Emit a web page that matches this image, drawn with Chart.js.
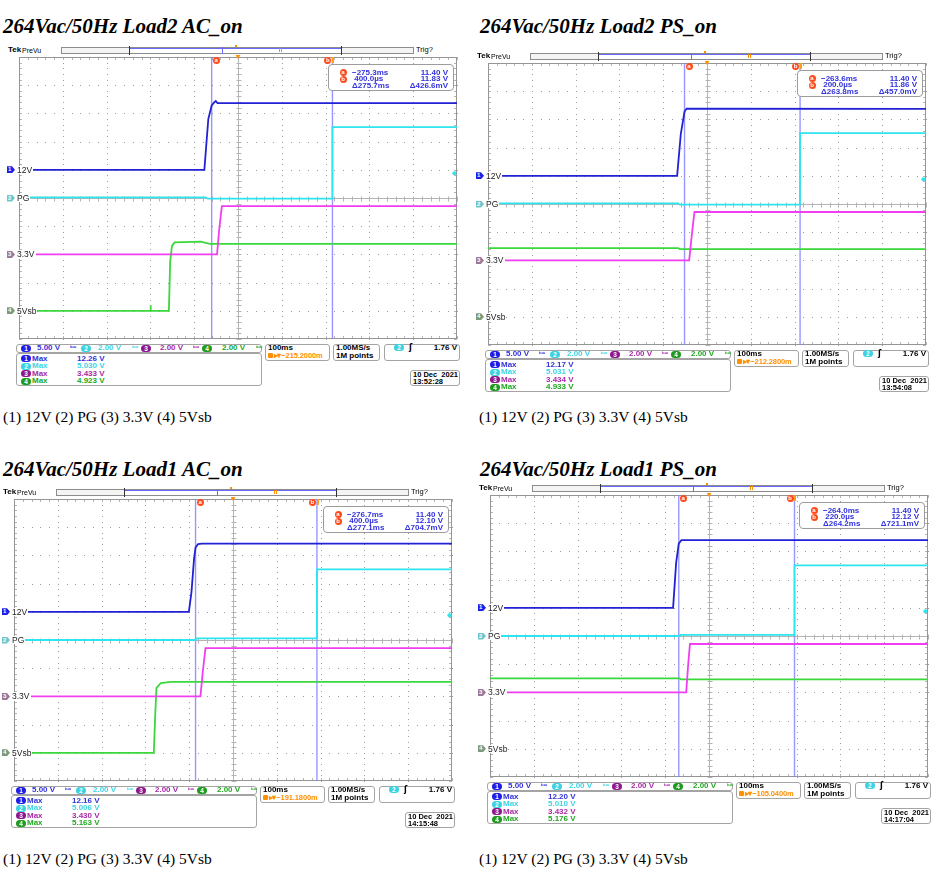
<!DOCTYPE html>
<html lang="en">
<head>
<meta charset="utf-8">
<title>264Vac/50Hz power-on sequence</title>
<script src="https://cdn.jsdelivr.net/npm/chart.js@4.4.1/dist/chart.umd.min.js"></script>
<style>
  html, body { margin: 0; padding: 0; background: #fff; }
  #page { position: relative; width: 939px; height: 870px; overflow: hidden;
          font-family: "Liberation Sans", Arial, sans-serif; font-weight: bold; color: #000; }
  #page div, #page canvas { position: absolute; white-space: pre; }
</style>
</head>
<body>
<div id="page"></div>
<script>
(function () {
    'use strict';

    /* ---------- values ---------- */
    const TITLES = ['264Vac/50Hz Load2 AC_on', '264Vac/50Hz Load2 PS_on', '264Vac/50Hz Load1 AC_on', '264Vac/50Hz Load1 PS_on'];
    const CAPTION = '(1) 12V (2) PG (3) 3.3V (4) 5Vsb';
    const CH_LABELS = ['12V', 'PG', '3.3V', '5Vsb'];
    const CH_SCALE_TEXT = ['5.00 V', '2.00 V', '2.00 V', '2.00 V'];
    const VOLTS_PER_DIV = [5, 2, 2, 2];
    const GROUND_DIV = [1, 0, -2, -4];
    const MS_PER_DIV = 100;
    const SCREEN_CENTER_MS = [-215.2, -212.3, -191.2, -195.0];
    const H_POS_TEXT = ['−215.2000m', '−212.2800m', '−191.1800m', '−105.0400m'];
    const CURSOR_A_MS = [-275.3, -263.6, -276.7, -264.0];
    const CURSOR_B_MS = [0.4, 0.2, 0.4, 0.22];
    const READ_A = [['−275.3ms', '11.40 V'], ['−263.6ms', '11.40 V'], ['−276.7ms', '11.40 V'], ['−264.0ms', '11.40 V']];
    const READ_B = [[' 400.0µs', '11.83 V'], [' 200.0µs', '11.86 V'], [' 400.0µs', '12.10 V'], [' 220.0µs', '12.12 V']];
    const READ_D = [['Δ275.7ms', 'Δ426.6mV'], ['Δ263.8ms', 'Δ457.0mV'], ['Δ277.1ms', 'Δ704.7mV'], ['Δ264.2ms', 'Δ721.1mV']];
    const MAX_READ = [
        ['12.26 V', '5.030 V', '3.433 V', '4.923 V'],
        ['12.17 V', '5.031 V', '3.434 V', '4.933 V'],
        ['12.16 V', '5.006 V', '3.430 V', '5.163 V'],
        ['12.20 V', '5.010 V', '3.432 V', '5.176 V']
    ];
    const STAMPS = [['10 Dec  2021', '13:52:28'], ['10 Dec  2021', '13:54:08'], ['10 Dec  2021', '14:15:48'], ['10 Dec  2021', '14:17:04']];
    const TRIG_LEVEL_V = 1.76;

    // waveforms: [time ms (trigger = 0), volts]
    const L2AC_12V = [[-715.2, 0], [-292, 0], [-283, 9.0], [-275.3, 11.4], [-270, 11.9], [-266, 12.2], [-262, 11.83], [284.8, 11.83]];
    const L2AC_PG = [[-715.2, 0.05], [-290, 0.05], [-284, -0.05], [0, -0.05], [0.4, 5.03], [284.8, 5.03]];
    const L2AC_3V3 = [[-715.2, 0], [-263, 0], [-258, 1.8], [-252, 3.43], [284.8, 3.43]];
    const L2AC_5VSB = [[-715.2, 0], [-416, 0], [-415, 0.4], [-414, 0], [-373, 0], [-370, 3.5], [-366, 4.6], [-360, 4.85], [-300, 4.9], [-280, 4.75], [284.8, 4.75]];

    const L2PS_12V = [[-712.3, 0], [-280.5, 0], [-272, 7.5], [-263.6, 11.4], [-259, 11.9], [287.7, 11.86]];
    const L2PS_PG = [[-712.3, 0.05], [-278, 0.05], [-275, -0.05], [0, -0.05], [0.2, 5.03], [287.7, 5.03]];
    const L2PS_3V3 = [[-712.3, 0], [-253, 0], [-247, 1.8], [-241, 3.434], [287.7, 3.434]];
    const L2PS_5VSB = [[-712.3, 4.87], [-278, 4.87], [-274, 4.80], [287.7, 4.80]];

    const L1AC_12V = [[-691.2, 0], [-292, 0], [-286, 3.5], [-280, 9.5], [-276.7, 11.4], [-271, 12.0], [-262, 12.1], [308.8, 12.1]];
    const L1AC_PG = [[-691.2, 0], [-277, 0], [-275, 0.12], [0.2, 0.12], [0.4, 5.006], [308.8, 5.006]];
    const L1AC_3V3 = [[-691.2, 0], [-265.5, 0], [-260, 1.8], [-254, 3.43], [308.8, 3.43]];
    const L1AC_5VSB = [[-691.2, 0], [-372, 0], [-369, 2.5], [-366, 4.6], [-356, 4.95], [-333, 5.03], [308.8, 5.03]];

    const L1PS_12V = [[-695, 0], [-277, 0], [-270, 8.0], [-264, 11.4], [-258, 12.0], [305, 12.0]];
    const L1PS_PG = [[-695, 0], [-262, 0], [-260, 0.08], [0, 0.08], [0.22, 5.01], [305, 5.01]];
    const L1PS_3V3 = [[-695, 0], [-247, 0], [-243, 1.8], [-238.5, 3.432], [305, 3.432]];
    const L1PS_5VSB = [[-695, 5.0], [-262, 5.0], [-259, 4.92], [305, 4.92]];

    const WAVES = [
        [L2AC_12V, L2AC_PG, L2AC_3V3, L2AC_5VSB],
        [L2PS_12V, L2PS_PG, L2PS_3V3, L2PS_5VSB],
        [L1AC_12V, L1AC_PG, L1AC_3V3, L1AC_5VSB],
        [L1PS_12V, L1PS_PG, L1PS_3V3, L1PS_5VSB]
    ];

    /* ---------- layout and colours ---------- */
    const GW = 444, GH = 288;   // graticule, 10 x 10 divisions
    const LAYOUT = [
        { gx: 16, gy: 54, tx: 3, ty: 16, cx: 3, cy: 409 },
        { gx: 485, gy: 60, tx: 480, ty: 16, cx: 479, cy: 409 },
        { gx: 11, gy: 496, tx: 3, ty: 459, cx: 3, cy: 851 },
        { gx: 487, gy: 492, tx: 480, ty: 459, cx: 479, cy: 851 }
    ];
    const CH_COLORS = ['#2222d4', '#2ee4ee', '#f03ef0', '#3ad83a'];
    const CH_TEXT = ['#3232dc', '#3fd4e4', '#a82aa8', '#22a822'];
    const CH_PILL = ['#1e1ee6', '#3cd2e0', '#8e168e', '#1e9a1e'];
    const CH_FLAG = ['#1e1ee6', '#6cc6cc', '#9a7a9a', '#7a9a7a'];
    const CURSOR_COLOR = 'rgba(125,125,255,0.8)';
    const ORANGE = '#ff9000';
    const FS = 8;   // scope UI text size

    const page = document.getElementById('page');

    function put(x, y, w, h, css, text) {
        const d = document.createElement('div');
        d.style.left = x + 'px';
        d.style.top = y + 'px';
        if (w !== null) d.style.width = w + 'px';
        if (h !== null) d.style.height = h + 'px';
        if (css) Object.assign(d.style, css);
        if (text !== undefined) d.textContent = text;
        page.appendChild(d);
        return d;
    }
    // sans text with its cap-height centre on yc
    function txt(x, yc, s, size, css) {
        return put(x, yc - 0.4725 * size, null, null,
            Object.assign({ fontSize: size + 'px', lineHeight: size + 'px' }, css), s);
    }
    function rtxt(xr, yc, s, size, css) {
        return txt(xr, yc, s, size, Object.assign({ transform: 'translateX(-100%)' }, css));
    }
    function box(x, y, w, h, css) {
        return put(x, y, w, h, Object.assign({
            border: '1px solid #a4a4a4', borderRadius: '3px', background: '#fff', boxSizing: 'border-box'
        }, css));
    }
    function pill(xc, yc, n, color) {
        return put(xc - 5, yc - 3.5, 10, 7, {
            background: color, borderRadius: '3.5px', color: '#fff',
            fontSize: '6.5px', lineHeight: '7px', textAlign: 'center'
        }, String(n));
    }
    function badge(xc, yc, letter) {
        return put(xc - 3.5, yc - 3.5, 7, 7, {
            background: '#ff4a1c', borderRadius: '50%', color: '#fff',
            fontSize: '6px', lineHeight: '7px', textAlign: 'center'
        }, letter);
    }

    /* ---------- graticule drawn from the chart's own scales ---------- */
    const graticule = {
        id: 'graticule',
        beforeDatasetsDraw(chart, args, opts) {
            const { ctx, chartArea: a, scales: { x, y } } = chart;
            const c0 = opts.center;
            const X = v => Math.round(x.getPixelForValue(v)) + 0.5;
            const Y = v => Math.round(y.getPixelForValue(v)) + 0.5;
            ctx.save();
            // dotted division lines, one dot per minor division
            ctx.fillStyle = '#9c9c9c';
            for (let i = -4; i <= 4; i++) {
                if (i === 0) continue;
                for (let k = -25; k <= 25; k++) {
                    ctx.fillRect(X(c0 + i * MS_PER_DIV) - 0.5, Y(k / 5) - 0.5, 1, 1);
                    ctx.fillRect(X(c0 + k * MS_PER_DIV / 5) - 0.5, Y(i) - 0.5, 1, 1);
                }
            }
            ctx.strokeStyle = '#b4b4b4';
            ctx.lineWidth = 1;
            ctx.beginPath();
            ctx.moveTo(a.left, Y(0)); ctx.lineTo(a.right, Y(0));
            ctx.moveTo(X(c0), a.top); ctx.lineTo(X(c0), a.bottom);
            for (let k = -25; k <= 25; k++) {
                const tx = X(c0 + k * MS_PER_DIV / 5), ty = Y(k / 5);
                ctx.moveTo(tx, Y(0) - 2); ctx.lineTo(tx, Y(0) + 3);
                ctx.moveTo(X(c0) - 2, ty); ctx.lineTo(X(c0) + 3, ty);
                ctx.moveTo(tx, a.top); ctx.lineTo(tx, a.top + 3);
                ctx.moveTo(tx, a.bottom); ctx.lineTo(tx, a.bottom - 3);
                ctx.moveTo(a.left, ty); ctx.lineTo(a.left + 3, ty);
                ctx.moveTo(a.right, ty); ctx.lineTo(a.right - 3, ty);
            }
            ctx.stroke();
            ctx.strokeStyle = '#959595';
            ctx.strokeRect(a.left + 0.5, a.top + 0.5, a.width - 1, a.height - 1);
            ctx.restore();
        }
    };

    /* ---------- one scope screen ---------- */
    function buildPanel(i) {
        const L = LAYOUT[i];
        const gx = L.gx, gy = L.gy, gb = gy + GH;
        const t0 = SCREEN_CENTER_MS[i] - 5 * MS_PER_DIV;
        const t1 = SCREEN_CENTER_MS[i] + 5 * MS_PER_DIV;

        put(L.tx, L.ty, null, null, { font: 'italic bold 21px/21px "Liberation Serif", "Times New Roman", serif' }, TITLES[i]);
        put(L.cx, L.cy, null, null, { font: '15.5px/15.5px "Liberation Serif", "Times New Roman", serif' }, CAPTION);

        // record-length bar
        txt(gx - 8, gy - 4, 'Tek', 8, {});
        txt(gx + 6, gy - 4, 'PreVu', 7, { fontWeight: 'normal' });
        box(gx + 45, gy - 7.5, 353, 7, { borderRadius: '0', border: '1px solid #8c8c8c', background: '#f4f4f4' });
        put(gx + 113, gy - 6.5, 212, 5, { background: '#fff', borderTop: '1px solid #6a6aff', boxSizing: 'border-box' });
        put(gx + 113, gy - 8.5, 1, 9, { background: '#333' });
        put(gx + 325, gy - 8.5, 1, 9, { background: '#333' });
        put(gx + 206, gy - 7.5, 1, 7, { background: '#6a6aff' });
        put(gx + 263, gy - 6.5, 3, 4, { borderLeft: '1px solid ' + ORANGE, borderRight: '1px solid ' + ORANGE, boxSizing: 'border-box' });
        put(gx + 219, gy - 9, 2, 2, { background: ORANGE });
        txt(gx + 400, gy - 4, 'Trig?', 7.5, { fontWeight: 'normal' });

        // traces
        const cv = document.createElement('canvas');
        cv.width = GW + 2;
        cv.height = GH + 2;
        Object.assign(cv.style, { left: (gx - 1) + 'px', top: (gy - 1) + 'px', width: (GW + 2) + 'px', height: (GH + 2) + 'px' });
        page.appendChild(cv);

        const datasets = [CURSOR_A_MS[i], CURSOR_B_MS[i]].map(t => ({
            data: [{ x: t, y: -5 }, { x: t, y: 5 }],
            borderColor: CURSOR_COLOR, borderWidth: 1.4, order: 9
        }));
        WAVES[i].forEach((w, c) => datasets.push({
            data: w.map(p => ({ x: p[0], y: GROUND_DIV[c] + p[1] / VOLTS_PER_DIV[c] })),
            borderColor: CH_COLORS[c], borderWidth: 1.8, order: c + 1
        }));
        datasets.push({
            data: [{ x: t1 - 6, y: GROUND_DIV[1] + TRIG_LEVEL_V / VOLTS_PER_DIV[1] }],
            showLine: false, pointRadius: 2, pointBorderWidth: 0,
            pointBackgroundColor: CH_COLORS[1], order: 0
        });

        const chart = new Chart(cv, {
            type: 'line',
            data: { datasets: datasets },
            options: {
                animation: false, responsive: false, devicePixelRatio: 1, events: [],
                layout: { padding: 1 },
                elements: { point: { radius: 0 }, line: { tension: 0, borderCapStyle: 'butt' } },
                plugins: { legend: { display: false }, tooltip: { enabled: false }, graticule: { center: SCREEN_CENTER_MS[i] } },
                scales: {
                    x: { type: 'linear', min: t0, max: t1, display: false },
                    y: { type: 'linear', min: -5, max: 5, display: false }
                }
            },
            plugins: [graticule]
        });
        const xs = chart.scales.x, ys = chart.scales.y;
        const X = t => gx - 1 + xs.getPixelForValue(t);
        const Y = d => gy - 1 + ys.getPixelForValue(d);

        // ground flags and channel labels
        CH_LABELS.forEach((name, c) => {
            const y = Y(GROUND_DIV[c]);
            put(gx - 9, y - 3.5, 8, 7, {
                background: CH_FLAG[c], clipPath: 'polygon(0 0, 62% 0, 100% 50%, 62% 100%, 0 100%)',
                color: '#fff', fontSize: '6px', lineHeight: '7px', paddingLeft: '1px', boxSizing: 'border-box'
            }, String(c + 1));
            txt(gx + 1, y, name, 8.5, { fontWeight: 'normal', color: '#222', background: '#fff', paddingRight: '1px' });
        });

        // cursor badges, trigger and expansion markers
        const xa = X(CURSOR_A_MS[i]), xb = X(CURSOR_B_MS[i]);
        badge(xa + 4.5, gy + 6.5, 'a');
        badge(xb - 4.5, gy + 6.5, 'b');
        put(X(0), gy + 3, 2, 6, { background: '#ffa020' });
        put(X(SCREEN_CENTER_MS[i]) - 2.5, gy + 1, 5, 4, { background: ORANGE, clipPath: 'polygon(0 0, 100% 0, 50% 100%)' });

        // cursor readout
        const rx = gx + 312, ry = gy + 10;
        box(rx, ry, 126, 26.5, { border: '1px solid #9c9c9c', borderRadius: '4px' });
        [[READ_A[i], 'a'], [READ_B[i], 'b'], [READ_D[i], null]].forEach((r, k) => {
            const yc = ry + 8.6 + k * 6.4;
            if (r[1]) badge(rx + 15, yc, r[1]);
            txt(rx + 24, yc, r[0][0], FS, { color: CH_TEXT[0] });
            rtxt(rx + 120, yc, r[0][1], FS, { color: CH_TEXT[0] });
        });

        // channel row
        box(gx, gb + 1.5, 246, 9, {});
        const PILL_X = [10, 70, 130, 191], SCALE_X = [21, 82, 144, 206], BW_X = [54, 116, 177, 240];
        for (let c = 0; c < 4; c++) {
            pill(gx + PILL_X[c], gb + 6, c + 1, CH_PILL[c]);
            txt(gx + SCALE_X[c], gb + 6, CH_SCALE_TEXT[c], FS, { color: CH_TEXT[c] });
            txt(gx + BW_X[c], gb + 6, 'ᵇʷ', 6, { color: CH_TEXT[c], fontFamily: '"DejaVu Sans", sans-serif' });
        }
        // max measurements
        box(gx, gb + 10.5, 246, 33, {});
        MAX_READ[i].forEach((v, c) => {
            const yc = gb + 16.5 + c * 7.5;
            pill(gx + 10, yc, c + 1, CH_PILL[c]);
            txt(gx + 16, yc, 'Max', FS, { color: CH_TEXT[c] });
            txt(gx + 61, yc, v, FS, { color: CH_TEXT[c] });
        });
        // horizontal, acquisition, trigger, date
        box(gx + 249, gb + 1.5, 65, 17, {});
        txt(gx + 252, gb + 5.8, '100ms', FS, {});
        put(gx + 252, gb + 11.2, 5, 5, { background: ORANGE, borderRadius: '1px' });
        txt(gx + 257.5, gb + 13.7, '▸▾' + H_POS_TEXT[i], 7.5, { color: ORANGE, letterSpacing: '-0.1px' });
        box(gx + 317, gb + 1.5, 47, 17, {});
        txt(gx + 320, gb + 5.8, '1.00MS/s', FS, {});
        txt(gx + 320, gb + 13.7, '1M points', FS, {});
        box(gx + 368, gb + 1.5, 76, 17, {});
        pill(gx + 383, gb + 5.8, 2, CH_PILL[1]);
        txt(gx + 393, gb + 5.8, 'ʃ', FS, { fontFamily: '"DejaVu Sans", sans-serif' });
        rtxt(gx + 441, gb + 5.8, '1.76 V', FS, {});
        box(gx + 394, gb + 28, 50, 16, {});
        txt(gx + 397, gb + 32.7, STAMPS[i][0], 7.5, {});
        txt(gx + 397, gb + 39.3, STAMPS[i][1], 7.5, {});
    }

    for (let i = 0; i < 4; i++) buildPanel(i);
})();
</script>
</body>
</html>
